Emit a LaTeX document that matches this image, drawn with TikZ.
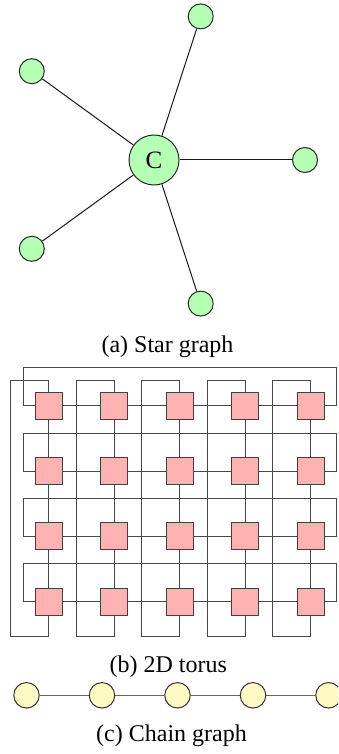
\documentclass[tikz,border=0pt]{standalone}
\usepackage{fontspec}
\setmainfont{Liberation Serif}
\usetikzlibrary{calc,backgrounds}
\definecolor{starfill}{RGB}{180,255,180}
\definecolor{torusfill}{RGB}{255,178,178}
\definecolor{chainfill}{RGB}{255,250,195}
\tikzset{
  leaf/.style={circle, draw=black!85, fill=starfill, line width=1pt, minimum size=25pt, inner sep=0pt},
  hub/.style={circle, draw=black!85, fill=starfill, line width=1pt, minimum size=50pt, inner sep=0pt,
              font=\fontsize{25}{30}\selectfont},
  spoke/.style={line width=1pt, draw=black!90},
  tnode/.style={rectangle, draw=black!75, fill=torusfill, line width=1pt, minimum size=27pt, inner sep=0pt},
  wire/.style={line width=1pt, draw=black!72},
  cnode/.style={circle, draw=black!80, fill=chainfill, line width=1pt, minimum size=25.5pt, inner sep=0pt},
  link/.style={line width=1pt, draw=black!60},
  caption/.style={font=\fontsize{24}{28}\selectfont, anchor=base, inner sep=0pt}
}
\begin{document}
\begin{tikzpicture}[x=1pt, y=-1pt]
\useasboundingbox (0,0) rectangle (338,754);
\clip (0,0) rectangle (338,754);

% ---- star graph ----
\node[hub] (c) at (154,160) {C};
\node[leaf] (l0) at (305,160) {};
\node[leaf] (l1) at (200.7,16.4) {};
\node[leaf] (l2) at (31.8,71.2) {};
\node[leaf] (l3) at (31.8,248.8) {};
\node[leaf] (l4) at (200.7,303.6) {};
\foreach \i in {0,...,4} \draw[spoke] (c) -- (l\i);
\node[caption] (capa) at (167.5,352.5) {(a) Star graph};

% ---- 2D torus ----
\foreach \r in {1,...,4}
  \foreach \c in {1,...,5}
    \node[tnode] (t\r\c) at ({48.5+65.5*(\c-1)},{405.7+65.3*(\r-1)}) {};
\begin{scope}[on background layer]
  % mesh links
  \foreach \r in {1,...,4}
    \foreach \c [count=\n from 2] in {1,...,4}
      \draw[wire] (t\r\c) -- (t\r\n);
  \foreach \c in {1,...,5}
    \foreach \r [count=\n from 2] in {1,...,3}
      \draw[wire] (t\r\c) -- (t\n\c);
  % row wrap-around links
  \foreach \r in {1,...,4}
    \draw[wire] (t\r1.west) -| ($(t\r1)+(-25,-38)$) -| ($(t\r5)+(26,0)$) -- (t\r5.east);
  % column wrap-around links
  \foreach \c in {1,...,5}
    \draw[wire] (t4\c.south) |- ($(t4\c)+(-38,35)$) |- ($(t1\c)+(0,-25)$) -- (t1\c.north);
\end{scope}
\node[caption] (capb) at (168.3,672.5) {(b) 2D torus};

% ---- chain graph ----
\foreach \i in {1,...,5}
  \node[cnode] (k\i) at ({26.5+75.5*(\i-1)},695.3) {};
\begin{scope}[on background layer]
  \foreach \i [count=\n from 2] in {1,...,4}
    \draw[link] (k\i) -- (k\n);
\end{scope}
\node[caption] (capc) at (171.5,741.5) {(c) Chain graph};
\end{tikzpicture}
\end{document}
